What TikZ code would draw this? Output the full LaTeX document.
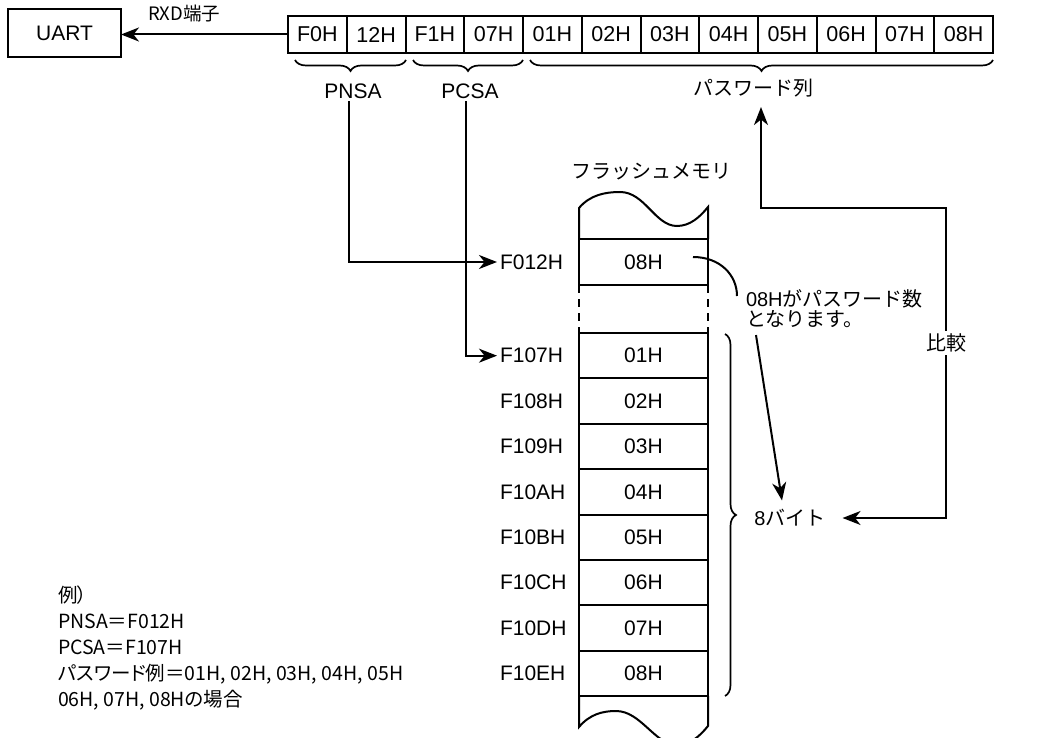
\documentclass[tikz,border=0pt]{standalone}
\usepackage{fontspec}
\setmainfont{Liberation Sans}
\newfontfamily\jp{Noto Sans CJK JP}
\newfontfamily\jpp[RawFeature={+palt}]{Noto Sans CJK JP}
\usetikzlibrary{arrows.meta,decorations.pathreplacing}
\begin{document}
\begin{tikzpicture}[x=1pt,y=-1pt,line width=2pt,
  lbl/.style={font=\fontsize{21}{24}\selectfont,inner sep=2pt},
  jlbl/.style={font=\jp\fontsize{20}{22}\selectfont,inner sep=2pt},
  cell/.style={draw,minimum width=58.75pt,minimum height=37pt,outer sep=0pt,inner sep=0pt,font=\fontsize{21.5}{24}\selectfont},
  mem/.style={draw,minimum width=129pt,minimum height=45.375pt,outer sep=0pt,inner sep=0pt,font=\fontsize{21}{24}\selectfont},
  arr/.style={-{Stealth[length=18pt,width=14pt,inset=5.5pt]}},
  brcd/.style={decorate,decoration={brace,amplitude=11pt,mirror},line width=1.7pt},
  brcr/.style={decorate,decoration={brace,amplitude=11pt},line width=1.7pt}]
\useasboundingbox (0,0) rectangle (1058,738);
\clip (0,0) rectangle (1058,738);

% UART and serial stream
\node[draw,minimum width=113pt,minimum height=48pt,outer sep=0pt,font=\fontsize{21}{24}\selectfont] (uart) at (64.5,33) {UART};
\foreach \t [count=\i] in {F0H,12H,F1H,07H,01H,02H,03H,04H,05H,06H,07H,08H}
  \node[cell] (c\i) at ({288+58.75*(\i-0.5)},34.5) {\t};
\node[font=\jpp\fontsize{18.5}{20}\selectfont,inner sep=1pt] (rxd) at (184,14) {RXD端子};
\draw[arr] (c1.west) -- (c1.west -| uart.east);

% braces
\draw[brcd] (295,60) -- (406,60);
\draw[brcd] (413,60) -- (523,60);
\draw[brcd] (530,60) -- (993,60);
\node[lbl] (pnsa) at (353,91) {PNSA};
\node[lbl] (pcsa) at (470,91) {PCSA};
\node[jlbl] (pwd) at (753,88) {パスワード列};

% flash memory
\node[jlbl] (flash) at (651,172) {フラッシュメモリ};
\node[mem,minimum height=46pt] (mem0) at (643.5,262) {08H};
\foreach \t [count=\i] in {01H,02H,03H,04H,05H,06H,07H,08H}
  \node[mem] (r\i) at (643.5,{333+45.375*(\i-0.5)}) {\t};
\foreach \a [count=\i] in {F107H,F108H,F109H,F10AH,F10BH,F10CH,F10DH,F10EH}
  \node[lbl,anchor=west] (a\i) at (497,{333+45.375*(\i-0.5)}) {\a};
\node[lbl,anchor=west] (f012) at (497,262) {F012H};

\draw (mem0.north west) -- (579,208)
  .. controls (590,195) and (605,192) .. (620,192)
  .. controls (645,192) and (655,226) .. (677,226)
  .. controls (690,226) and (700,217) .. (708,207) -- (mem0.north east);
\draw[dash pattern=on 8pt off 6pt] (mem0.south west) -- (r1.north west);
\draw[dash pattern=on 8pt off 6pt] (mem0.south east) -- (r1.north east);
\draw (r8.south west) -- (579,727)
  .. controls (590,714) and (603,711) .. (616,711)
  .. controls (641,711) and (655,745) .. (677,745)
  .. controls (690,745) and (700,736) .. (708,726) -- (r8.south east);

% pointers
\draw[arr] ([xshift=-4pt]pnsa.south) |- (f012.west);
\draw[arr] ([xshift=-4pt]pcsa.south) |- (a1.west);

% right side
\draw[brcr] (725,334) -- (725,696);
\node[jlbl] (byte8) at (790,518) {{\normalfont 8}バイト};
\node[jlbl,align=left,anchor=west,font=\jp\fontsize{20}{20}\selectfont] (note) at (743,309) {{\normalfont 08H}がパスワード数\\となります。};
\draw (693,257) .. controls (720,257) and (737,275) .. (737,296);
\draw[arr] ([xshift=13pt,yshift=-4pt]note.south west) -- ([xshift=-8pt,yshift=6pt]byte8.north);
\node[jlbl] (cmp) at (946,343) {比較};
\coordinate (up) at ([xshift=8pt,yshift=-7pt]pwd.south);
\draw[arr] (cmp.north) -- (cmp.north |- 0,208) -| (up);
\draw[arr] (cmp.south) |- ([xshift=14pt]byte8.east);

% example
\node[font=\jpp\fontsize{19.5}{26}\selectfont,align=left,anchor=west,inner sep=0pt] (ex) at (57,648)
  {例）\\PNSA＝F012H\\PCSA＝F107H\\パスワード例＝01H, 02H, 03H, 04H, 05H\\06H, 07H, 08Hの場合};
\end{tikzpicture}
\end{document}
